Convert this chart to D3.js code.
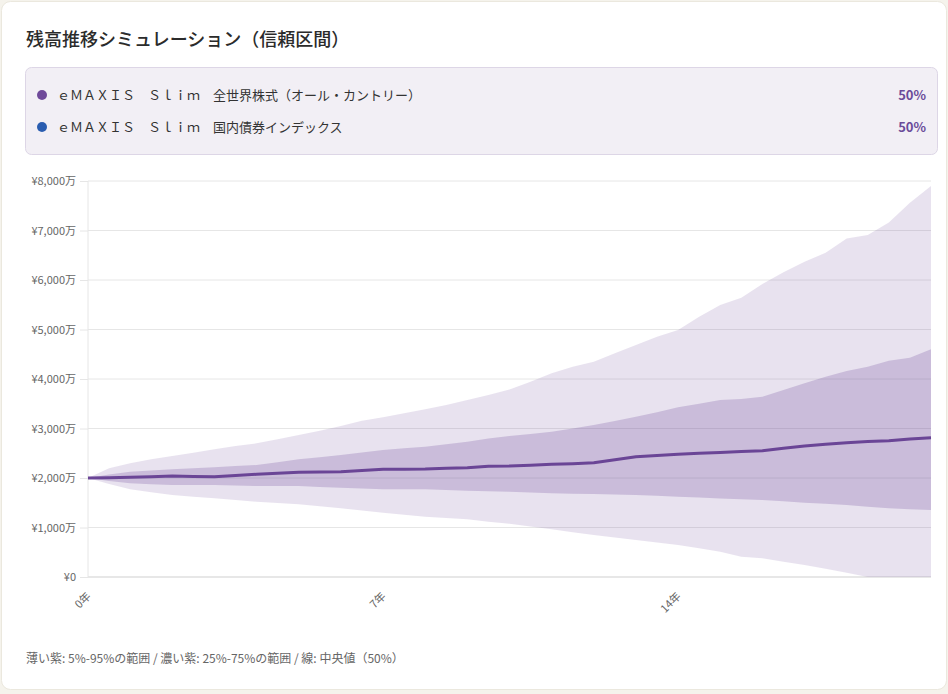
<!DOCTYPE html>
<html><head><meta charset="utf-8">
<script src="https://cdn.jsdelivr.net/npm/d3@7"></script>
<style>
html,body{margin:0;padding:0;background:#f5f3ec;}
svg{display:block;}
text{font-family:"Noto Sans CJK JP","Noto Sans",sans-serif;}
</style></head>
<body>
<svg id="c" width="948" height="694"></svg>
<script>
const title = "残高推移シミュレーション（信頼区間）";
const funds = ["ｅＭＡＸＩＳ　Ｓｌｉｍ　全世界株式（オール・カントリー）", "ｅＭＡＸＩＳ　Ｓｌｉｍ　国内債券インデックス"];
const fundWeights = ["50%", "50%"];
const fundColors = ["#6f4a9a", "#2a5db0"];
const footnote = "薄い紫: 5%-95%の範囲 / 濃い紫: 25%-75%の範囲 / 線: 中央値（50%）";
const years = [0,0.5,1,1.5,2,2.5,3,3.5,4,4.5,5,5.5,6,6.5,7,7.5,8,8.5,9,9.5,10,10.5,11,11.5,12,12.5,13,13.5,14,14.5,15,15.5,16,16.5,17,17.5,18,18.5,19,19.5,20];
const xTicks = [0,7,14];
const yTicks = [0,1000,2000,3000,4000,5000,6000,7000,8000];
const p95 = [2000,2196,2297,2377,2444,2511,2579,2646,2700,2781,2868,2955,3050,3158,3226,3306,3387,3474,3575,3676,3790,3945,4115,4248,4349,4518,4686,4854,4989,5258,5494,5642,5919,6155,6370,6550,6840,6908,7160,7560,7900];
const p75 = [2000,2070,2127,2150,2175,2195,2216,2240,2262,2320,2377,2420,2464,2515,2565,2600,2632,2680,2733,2800,2850,2890,2935,3000,3070,3150,3238,3330,3428,3500,3575,3596,3642,3777,3912,4046,4161,4248,4370,4430,4600];
const p50 = [2000,2005,2014,2025,2040,2030,2026,2050,2074,2095,2115,2120,2127,2150,2175,2178,2181,2195,2208,2235,2242,2260,2276,2290,2309,2370,2430,2455,2478,2500,2515,2535,2552,2600,2646,2680,2713,2735,2754,2790,2814];
const p25 = [2000,1940,1893,1875,1858,1858,1858,1848,1838,1838,1838,1820,1804,1788,1771,1771,1771,1757,1743,1733,1723,1707,1690,1683,1677,1666,1656,1640,1622,1605,1588,1572,1555,1528,1501,1478,1454,1420,1387,1370,1353];
const p5 = [2000,1880,1771,1710,1656,1620,1590,1555,1521,1495,1468,1428,1387,1343,1299,1258,1218,1190,1165,1118,1078,1020,964,906,848,798,747,697,646,579,511,411,377,309,242,168,88,0,0,0,0];

const svg = d3.select("#c");
// card
svg.append("rect").attr("x",1.5).attr("y",1.5).attr("width",945).attr("height",688).attr("rx",9)
  .attr("fill","#fff").attr("stroke","#ebe8de");
svg.append("text").attr("x",26).attr("y",46).attr("font-size",18).attr("font-weight",500).attr("fill","#2b2b2b").text(title);

// legend box
svg.append("rect").attr("x",25.5).attr("y",67.5).attr("width",912).attr("height",87).attr("rx",6)
  .attr("fill","#f2eff5").attr("stroke","#ddd6e6");
funds.forEach((f,i)=>{
  const cy = 95 + i*32;
  svg.append("circle").attr("cx",42).attr("cy",cy).attr("r",5).attr("fill",fundColors[i]);
  svg.append("text").attr("x",57).attr("y",cy+4.5).attr("font-size",13).attr("fill","#333").text(f);
  svg.append("text").attr("x",926).attr("y",cy+5).attr("text-anchor","end").attr("font-size",13)
    .attr("font-weight",700).attr("fill","#6b4c9a").attr("font-family","'Noto Sans',sans-serif").text(fundWeights[i]);
});

const L=88, R=931, T=181, B=577;
const x = d3.scaleLinear().domain([0,20]).range([L,R]);
const y = d3.scaleLinear().domain([0,8000]).range([B,T]);
const g = svg.append("g");

// grid
g.selectAll(".gl").data(yTicks).enter().append("line")
  .attr("x1",L).attr("x2",R).attr("y1",d=>y(d)).attr("y2",d=>y(d))
  .attr("stroke", d=>d===0?"#cfcfcf":"#e6e6e6").attr("stroke-width",1);
g.append("line").attr("x1",L).attr("x2",L).attr("y1",T).attr("y2",B).attr("stroke","#e6e6e6");

const idx = d3.range(years.length);
const outer = d3.area().x(i=>x(years[i])).y0(i=>y(p5[i])).y1(i=>y(p95[i]));
const inner = d3.area().x(i=>x(years[i])).y0(i=>y(p25[i])).y1(i=>y(p75[i]));
const mid = d3.line().x(i=>x(years[i])).y(i=>y(p50[i]));
g.append("path").attr("d",outer(idx)).attr("fill","rgba(111,74,154,0.16)");
g.append("path").attr("d",inner(idx)).attr("fill","rgba(111,74,154,0.25)");
g.append("path").attr("d",mid(idx)).attr("fill","none").attr("stroke","#6a4596").attr("stroke-width",3).attr("stroke-linejoin","round");

// y axis
const ya = svg.append("g").attr("transform",`translate(${L},0)`)
  .call(d3.axisLeft(y).tickValues(yTicks).tickSize(8).tickPadding(4)
    .tickFormat(d=> d===0 ? "¥0" : "¥"+d3.format(",")(d)+"万"));
ya.select(".domain").remove();
ya.selectAll(".tick line").attr("stroke","#e6e6e6");
ya.selectAll("text").attr("font-size",11).attr("fill","#666");

// x axis
const xa = svg.append("g").attr("transform",`translate(0,${B})`)
  .call(d3.axisBottom(x).tickValues(xTicks).tickSize(0).tickFormat(d=>d+"年"));
xa.select(".domain").remove();
xa.selectAll("text").attr("font-size",11).attr("fill","#666")
  .attr("text-anchor","end").attr("dy",0).attr("y",0)
  .attr("transform","translate(3,20) rotate(-45)");

svg.append("text").attr("x",26).attr("y",663).attr("font-size",12).attr("fill","#666").text(footnote);
</script>
</body></html>
